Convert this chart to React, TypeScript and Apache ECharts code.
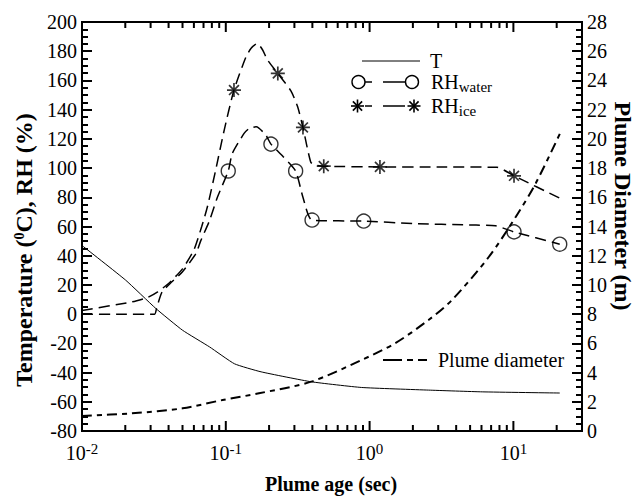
import React, { useEffect, useRef } from 'react';
import * as echarts from 'echarts';

// ---- data ----
const ageT = [0.01, 0.0201, 0.0326, 0.05, 0.077, 0.115, 0.176, 0.393, 0.88, 2.57, 6.07, 21];
const tempT = [47, 23.3, 3.9, -11, -22.4, -34, -39.5, -46.3, -50.2, -52, -53.2, -54];

const ageRHw = [0.01, 0.02, 0.032, 0.033, 0.036, 0.042, 0.05, 0.062, 0.0668, 0.077, 0.0874, 0.104, 0.111, 0.134, 0.145, 0.163, 0.19, 0.206, 0.25, 0.306, 0.344, 0.398, 0.91, 2, 5, 7.5, 10.1, 21];
const rhWater = [0, 0, 0, 4, 15, 22, 29, 41.5, 50, 64, 80, 98, 110, 123.7, 127, 128.3, 122.5, 116.4, 108, 98, 80, 64.4, 63.7, 62, 61, 60.5, 56.3, 47.9];

const ageRHi = [0.01, 0.0223, 0.0285, 0.0336, 0.04, 0.05, 0.06, 0.068, 0.0745, 0.085, 0.0975, 0.114, 0.138, 0.15, 0.166, 0.18, 0.195, 0.23, 0.283, 0.316, 0.344, 0.39, 0.42, 0.48, 1.18, 3, 7.7, 10.1, 21.4];
const rhIce = [2.5, 8.4, 11.4, 15.3, 21, 31, 44, 60, 73.5, 98.6, 126, 153.4, 176, 182, 185.3, 181, 174, 164.8, 153, 142, 127.8, 104, 102, 101.3, 100.8, 100.8, 100.5, 94.7, 79];

const markAgeW = [0.104, 0.206, 0.306, 0.398, 0.91, 10.1, 21];
const markRHw = [98, 116.4, 98, 64.4, 63.7, 56.3, 47.9];
const markAgeI = [0.114, 0.23, 0.344, 0.48, 1.18, 10.1];
const markRHi = [153.4, 164.8, 127.8, 101.3, 100.8, 94.7];

const ageD = [0.01, 0.0223, 0.05, 0.095, 0.17, 0.393, 0.88, 1.5, 2.57, 3.74, 6.76, 10.4, 14.3, 21.4];
const diam = [1.03, 1.21, 1.55, 2.12, 2.58, 3.38, 4.86, 6.0, 7.6, 8.97, 11.93, 14.67, 16.96, 20.5];

// axis structure
const X_MIN = 0.01;
const X_MAX = 30;
const xMajorTicks = [0.01, 0.1, 1, 10];
const xMinorTicks = [0.02, 0.03, 0.04, 0.05, 0.06, 0.07, 0.08, 0.09, 0.2, 0.3, 0.4, 0.5, 0.6, 0.7, 0.8, 0.9, 2, 3, 4, 5, 6, 7, 8, 9, 20];

const zip = (a: number[], b: number[]) => a.map((v, i) => [v, b[i]]);

const SERIF = 'Liberation Serif';
const STAR = 'path://M6 0L6 12M0 6L12 6M1.76 1.76L10.24 10.24M1.76 10.24L10.24 1.76';

function starLines(cx: number, cy: number, r: number) {
  const out: any[] = [];
  for (let k = 0; k < 4; k++) {
    const a = (k * Math.PI) / 4;
    out.push({
      type: 'line',
      shape: { x1: cx - r * Math.cos(a), y1: cy - r * Math.sin(a), x2: cx + r * Math.cos(a), y2: cy + r * Math.sin(a) },
      style: { stroke: '#000', lineWidth: 1.6 },
    });
  }
  return out;
}

function yAxisDef(position: string, min: number, max: number, interval: number) {
  return {
    type: 'value',
    position,
    min,
    max,
    interval,
    axisLine: { show: true, onZero: false, lineStyle: { color: '#000', width: 2 } },
    axisTick: { show: true, inside: true, length: 10, lineStyle: { color: '#000', width: 2 } },
    minorTick: { show: true, splitNumber: 4, length: 6, lineStyle: { color: '#000', width: 2 } },
    splitLine: { show: false },
    axisLabel: { fontFamily: SERIF, fontSize: 20, color: '#000', margin: 5 },
  };
}

export default function App() {
  const ref = useRef<HTMLDivElement>(null);
  useEffect(() => {
    if (!ref.current) return;
    const chart = echarts.init(ref.current, undefined, { renderer: 'svg' });
    const graphics: any[] = [
      {
        type: 'text', x: 24, y: 250, rotation: Math.PI / 2,
        style: {
          text: 'Temperature ({s|0}C), RH (%)', align: 'center', verticalAlign: 'middle',
          fontFamily: SERIF, fontSize: 24, fontWeight: 'bold', fill: '#000',
          rich: { s: { fontFamily: SERIF, fontSize: 14, fontWeight: 'bold', fill: '#000', verticalAlign: 'top' } },
        },
      },
      {
        type: 'text', x: 623, y: 206, rotation: -Math.PI / 2,
        style: { text: 'Plume Diameter (m)', align: 'center', verticalAlign: 'middle', fontFamily: SERIF, fontSize: 24, fontWeight: 'bold', fill: '#000' },
      },
      {
        type: 'text', x: 331, y: 484,
        style: { text: 'Plume age (sec)', align: 'center', verticalAlign: 'middle', fontFamily: SERIF, fontSize: 20, fontWeight: 'bold', fill: '#000' },
      },
      { type: 'line', shape: { x1: 362, y1: 61, x2: 420, y2: 61 }, style: { stroke: '#000', lineWidth: 1 } },
      { type: 'text', x: 430, y: 61, style: { text: 'T', align: 'left', verticalAlign: 'middle', fontFamily: SERIF, fontSize: 20, fill: '#000' } },
      { type: 'line', shape: { x1: 365, y1: 82, x2: 372, y2: 82 }, style: { stroke: '#000', lineWidth: 1.5 } },
      { type: 'line', shape: { x1: 383, y1: 82, x2: 405, y2: 82 }, style: { stroke: '#000', lineWidth: 1.5 } },
      { type: 'circle', shape: { cx: 358.5, cy: 82, r: 6.5 }, style: { fill: '#fff', stroke: '#000', lineWidth: 1.4 } },
      { type: 'circle', shape: { cx: 412, cy: 82, r: 6.5 }, style: { fill: '#fff', stroke: '#000', lineWidth: 1.4 } },
      {
        type: 'text', x: 431, y: 82,
        style: {
          text: '{m|RH}{u|water}', align: 'left', verticalAlign: 'middle',
          rich: {
            m: { fontFamily: SERIF, fontSize: 20, fill: '#000' },
            u: { fontFamily: SERIF, fontSize: 15, fill: '#000', verticalAlign: 'bottom', padding: [10, 0, 0, 0] },
          },
        },
      },
      { type: 'line', shape: { x1: 365, y1: 106, x2: 372, y2: 106 }, style: { stroke: '#000', lineWidth: 1.5 } },
      { type: 'line', shape: { x1: 383, y1: 106, x2: 405, y2: 106 }, style: { stroke: '#000', lineWidth: 1.5 } },
      ...starLines(357.5, 106, 6.5),
      ...starLines(414, 106, 6.5),
      {
        type: 'text', x: 431, y: 106,
        style: {
          text: '{m|RH}{u|ice}', align: 'left', verticalAlign: 'middle',
          rich: {
            m: { fontFamily: SERIF, fontSize: 20, fill: '#000' },
            u: { fontFamily: SERIF, fontSize: 15, fill: '#000', verticalAlign: 'bottom', padding: [10, 0, 0, 0] },
          },
        },
      },
      { type: 'line', shape: { x1: 383, y1: 360, x2: 402, y2: 360 }, style: { stroke: '#000', lineWidth: 2 } },
      { type: 'line', shape: { x1: 407, y1: 360, x2: 413, y2: 360 }, style: { stroke: '#000', lineWidth: 2 } },
      { type: 'line', shape: { x1: 418, y1: 360, x2: 427, y2: 360 }, style: { stroke: '#000', lineWidth: 2 } },
      { type: 'text', x: 438, y: 360, style: { text: 'Plume diameter', align: 'left', verticalAlign: 'middle', fontFamily: SERIF, fontSize: 20, fill: '#000' } },
    ];
    const option: any = {
      animation: false,
      backgroundColor: '#fff',
      grid: { left: 82, right: 54, top: 22, bottom: 65, show: true, borderColor: '#000', borderWidth: 2 },
      xAxis: {
        type: 'log',
        logBase: 10,
        min: X_MIN,
        max: X_MAX,
        axisLine: { show: true, onZero: false, lineStyle: { color: '#000', width: 2 } },
        axisTick: { show: false },
        splitLine: { show: false },
        axisLabel: {
          margin: 10,
          formatter: (v: number) => {
            const l = Math.log10(v);
            const e = Math.round(l);
            if (Math.abs(l - e) > 1e-6) return '';
            return '{b|10}{s|' + e + '}';
          },
          rich: {
            b: { fontFamily: SERIF, fontSize: 20, color: '#000', lineHeight: 24 },
            s: { fontFamily: SERIF, fontSize: 15, color: '#000', verticalAlign: 'top', lineHeight: 14 },
          },
        },
      },
      yAxis: [yAxisDef('left', -80, 200, 20), yAxisDef('right', 0, 28, 2)],
      series: [
        {
          type: 'custom',
          yAxisIndex: 0,
          data: [...xMajorTicks.map((v) => [v, 1]), ...xMinorTicks.map((v) => [v, 0])],
          renderItem: (params: any, api: any) => {
            const v = api.value(0);
            const len = api.value(1) === 1 ? 10 : 6;
            const b = api.coord([v, -80]);
            const t = api.coord([v, 200]);
            return {
              type: 'group',
              children: [
                { type: 'line', shape: { x1: b[0], y1: b[1], x2: b[0], y2: b[1] - len }, style: { stroke: '#000', lineWidth: 2 } },
                { type: 'line', shape: { x1: t[0], y1: t[1], x2: t[0], y2: t[1] + len }, style: { stroke: '#000', lineWidth: 2 } },
              ],
            };
          },
        },
        {
          name: 'T', type: 'line', yAxisIndex: 0, data: zip(ageT, tempT),
          symbol: 'none', smooth: 0.15, lineStyle: { color: '#000', width: 1 },
        },
        {
          name: 'RHwater', type: 'line', yAxisIndex: 0, data: zip(ageRHw, rhWater),
          symbol: 'none', smooth: 0.2, lineStyle: { color: '#000', width: 1.5, type: [11, 6] },
        },
        {
          name: 'RHice', type: 'line', yAxisIndex: 0, data: zip(ageRHi, rhIce),
          symbol: 'none', smooth: 0.2, lineStyle: { color: '#000', width: 1.5, type: [11, 6] },
        },
        {
          name: 'Plume diameter', type: 'line', yAxisIndex: 1, data: zip(ageD, diam),
          symbol: 'none', smooth: 0.3, lineStyle: { color: '#000', width: 2, type: [10, 5, 5, 5] },
        },
        {
          name: 'RHwater markers', type: 'scatter', yAxisIndex: 0, data: zip(markAgeW, markRHw),
          symbol: 'circle', symbolSize: 14,
          itemStyle: { color: '#fff', borderColor: '#000', borderWidth: 1.4 },
        },
        {
          name: 'RHice markers', type: 'scatter', yAxisIndex: 0, data: zip(markAgeI, markRHi),
          symbol: STAR, symbolSize: 14,
          itemStyle: { color: '#000', borderColor: '#000', borderWidth: 1.7 },
        },
      ],
      graphic: graphics,
    };
    chart.setOption(option);
    return () => chart.dispose();
  }, []);
  return <div ref={ref} style={{ position: 'fixed', left: 0, top: 0, width: 636, height: 496, background: '#fff' }} />;
}
